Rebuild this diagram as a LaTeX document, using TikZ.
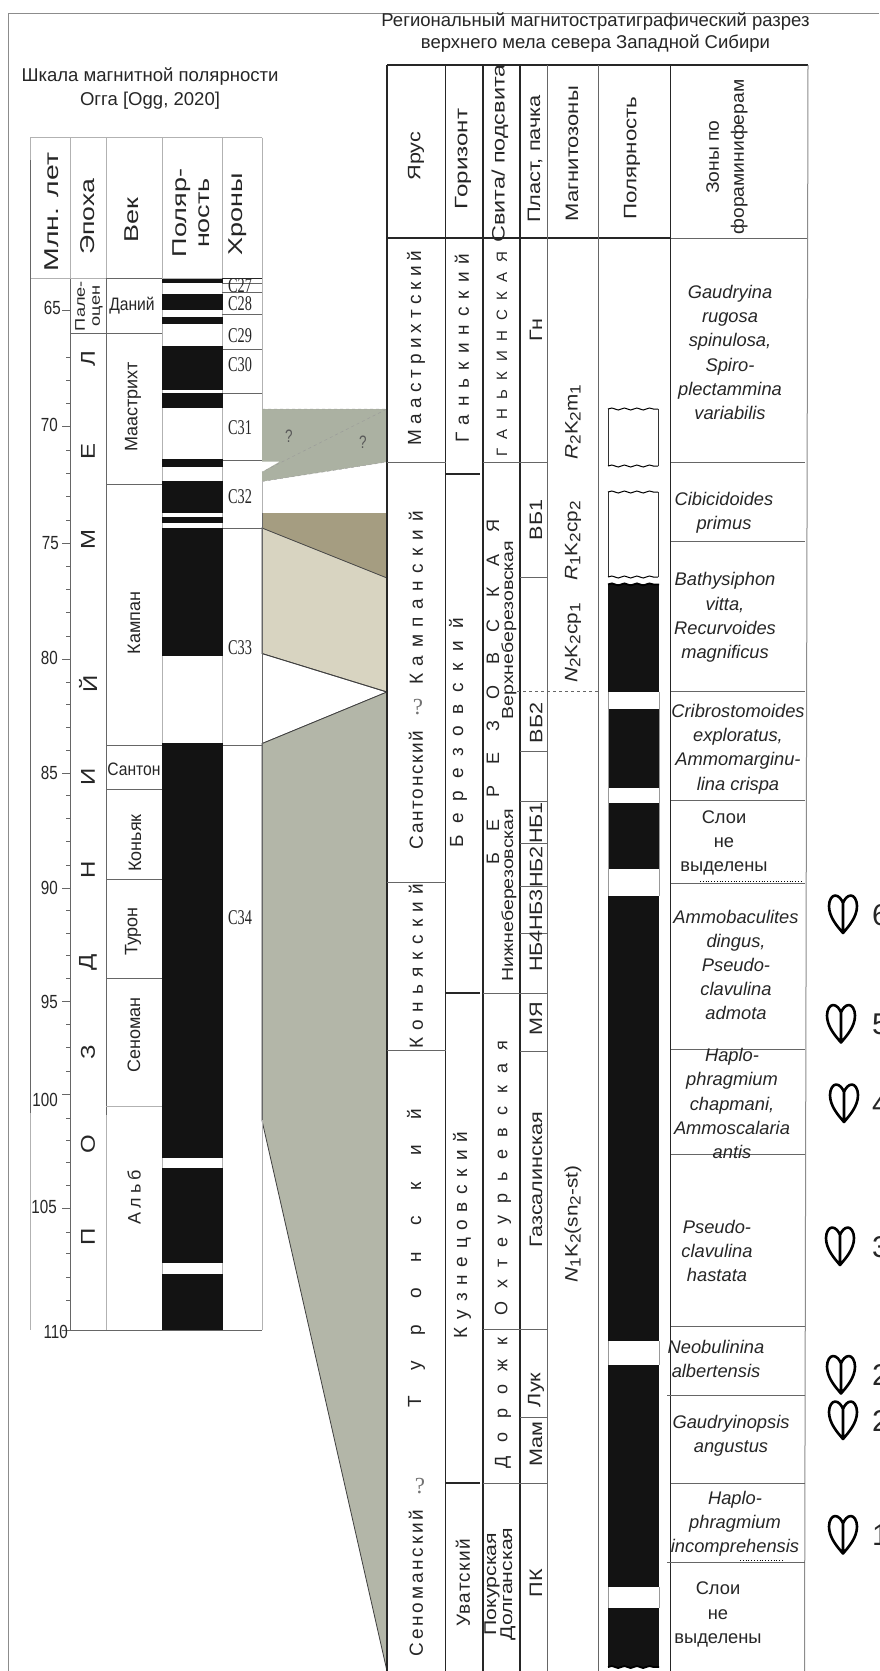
\documentclass[tikz,border=0pt]{standalone}
\usepackage{fontspec}
\setmainfont{Liberation Sans}
\newfontfamily\chronfont{Liberation Serif}
\usetikzlibrary{decorations.pathmorphing}
\usepackage{xcolor}
\definecolor{magBlack}{HTML}{131313}
\definecolor{wedgeGreen}{HTML}{ABB1A2}
\definecolor{wedgeBrown}{HTML}{A59D81}
\definecolor{wedgeBeige}{HTML}{D8D4C1}
\definecolor{wedgeGray}{HTML}{B3B6A8}
\newcommand{\zs}[1]{\raisebox{-3pt}{\fontsize{15}{15}\selectfont #1}}
\tikzset{
    % Lines
    frameLine/.style={draw=black!45, line width=0.9pt},
    thinLine/.style={draw=black!60, line width=0.8pt},
    paleLine/.style={draw=black!30, line width=0.8pt},
    darkLine/.style={draw=black!85, line width=1.1pt},
    edgeLine/.style={draw=black!75, line width=0.8pt},
    wavyLine/.style={decorate, decoration={snake, amplitude=1pt, segment length=12.5pt}, line width=1pt},
    % Text
    hlbl/.style 2 args={inner sep=0pt, align=center, xscale=#2, transform shape, font=\fontsize{#1}{#1}\selectfont},
    vlbl/.style 2 args={rotate=90, xscale=#2, transform shape, inner sep=0pt, align=center, font=\fontsize{#1}{#1}\selectfont},
    vspaced/.style 2 args={rotate=90, inner sep=0pt, font=\fontsize{#1}{#1}\selectfont\addfontfeature{LetterSpace=#2}},
    zone/.style={inner sep=0pt, align=center, font=\fontsize{18.3}{24.2}\selectfont\itshape},
    zoneplain/.style={inner sep=0pt, align=center, font=\fontsize{18.3}{24.4}\selectfont},
    chron/.style={inner sep=0pt, xscale=.68, transform shape, font=\fontsize{21}{21}\selectfont\chronfont},
    tickno/.style={inner sep=0pt, anchor=east, xscale=.8, transform shape, font=\fontsize{19}{19}\selectfont},
    query/.style={inner sep=0pt, text=black!55, font=\fontsize{23}{23}\selectfont\chronfont},
    % Fossil mark
    shell/.pic={\draw[line width=2.6pt, line join=round]
        (0,19) .. controls (-6,12) and (-14,3) .. (-14,-8)
        .. controls (-14,-14) and (-11,-18.5) .. (-8,-18.5)
        .. controls (-4.5,-18.5) and (-1.5,-15) .. (0,-11)
        .. controls (1.5,-15) and (4.5,-18.5) .. (8,-18.5)
        .. controls (11,-18.5) and (14,-14) .. (14,-8)
        .. controls (14,3) and (6,12) .. (0,19) -- cycle (0,-11) -- (0,19);}
}

\begin{document}
\begin{tikzpicture}[x=1pt, y=-1pt, every node/.append style={text=black!85}]
\path[use as bounding box, clip] (0,0) rectangle (879,1671);
\fill[white] (0,0) rectangle (879,1671);

% Frame
\draw[frameLine] (879,13) -- (8,13) -- (8,1671);

% Titles
\node[hlbl={18.55}{1}] (leftTitle) at (150,89) {Шкала магнитной полярности\\[5.5pt]Огга [Ogg, 2020]};
\node[hlbl={18.5}{1}] (rightTitle) at (595.5,33) {Региональный магнитостратиграфический разрез\\[3.5pt]верхнего мела севера Западной Сибири};

% Correlation wedges
\fill[wedgeGreen] (262,409) -- (387,409) -- (387,462) -- (262,481.5) -- (262,472) -- (280,461.5) -- (262,461.5) -- cycle;
\draw[black!40, dashed] (262,409) -- (387,409) -- (262,472);
\draw[black!40, dashed] (262,481.5) -- (387,462);
\fill[wedgeBrown] (262,513) -- (387,513) -- (387,578) -- (262,528) -- cycle;
\filldraw[fill=wedgeBeige, edgeLine] (262,528) -- (387,578) -- (387,692) -- (262,653.5) -- cycle;
\draw[edgeLine] (262,653.5) -- (387,692) -- (262,743.6);
\filldraw[fill=wedgeGray, edgeLine] (262,743.6) -- (387,692) -- (387,1671) -- (262,1120.5) -- cycle;
\draw[thinLine] (262,513) -- (262,1120.5);
\node[hlbl={18}{.75}, text=black!65] (qLeft) at (289,436) {?};
\node[hlbl={18}{.75}, text=black!65] (qRight) at (363,442) {?};

% Left scale, grid
\draw[paleLine] (30,137.5) -- (262,137.5) (30,278.6) -- (262,278.6);
\draw[paleLine] (30,137.5) -- (30,1330);
\draw[thinLine] (30,160) -- (30,1113);
\draw[paleLine] (70,137.5) -- (70,278.6) (106,137.5) -- (106,278.6) (162,137.5) -- (162,1330) (222,137.5) -- (222,1330);
\draw[thinLine] (70,278.6) -- (70,1330) (106,278.6) -- (106,1115);
\draw[paleLine] (106,1115) -- (106,1330);
\draw[paleLine] (262,137.5) -- (262,409) (262,481) -- (262,513) (262,1120) -- (262,1330);
\draw[thinLine] (70,1330) -- (262,1330);
\draw[thinLine] (70,333) -- (162,333) (106,278.6) -- (162,278.6);
\draw[thinLine] (106,484) -- (162,484) (106,745) -- (222,745) (222,745) -- (262,745) (106,789) -- (162,789) (106,879) -- (162,879) (106,978) -- (162,978);
\draw[paleLine] (106,1106) -- (162,1106);
\foreach \y in {283,292,314,349,393} \draw[thinLine] (222,\y) -- (262,\y);
\draw[darkLine] (222,278.6) -- (262,278.6);
\foreach \y in {460.7,528} \draw[thinLine] (222,\y) -- (262,\y);

% Ticks
\foreach \y in {310.7,426.8,543,659.4,773.3,888,1001.8,1094,1208,1330} \draw[thinLine] (62,\y) -- (70,\y);
\foreach \y in {357,380,403.6,450,473,496,520,566,589,612,636,682,704,727,750,795,818,841,865,910,933,955,978,1024,1047,1071,1118,1140,1162,1185,1232,1253,1277,1300} \draw[thinLine] (66,\y) -- (70,\y);
\foreach \i/\r/\y in {65/61/308,70/58/425,75/59/543,80/58/658,85/58/773,90/58/888,95/58/1002,100/58/1099.5,105/57/1207,110/68/1332} \node[tickno] (tick\i) at (\r,\y) {\i};

% Left scale, polarity
\foreach \a/\b in {278.6/283,293.6/310,317/323.6,346.4/390,393/408,459/467,481.4/513,517/523,528/656,742.5/1158,1168.4/1262.5,1273.5/1330} \fill[magBlack] (162,\a) rectangle (222.5,\b);

% Left scale, header
\node[vlbl={20}{1.42}] (hdrAge) at (52,212) {Млн. лет};
\node[vlbl={20}{1.33}] (hdrEpoch) at (88,217) {Эпоха};
\node[vlbl={20}{1.35}] (hdrStage) at (132,220) {Век};
\node[vlbl={20}{1.35}] (hdrPol) at (191.5,213) {Поляр-\\[3pt]ность};
\node[vlbl={20}{1.35}] (hdrChron) at (238,214) {Хроны};

% Left scale, epoch
\node[vlbl={14}{1.3}] (epPaleo) at (89,306) {Пале-\\[1pt]оцен};
\foreach \i/\t/\y in {1/Л/359,2/Е/451,3/М/539,4/Й/684,5/И/777,6/Н/870,7/Д/962,8/З/1052,9/О/1144,10/П/1237} \node[vlbl={20}{1.2}] (ep\i) at (88,\y) {\t};

% Left scale, stages
\node[hlbl={18}{.87}] (ageDan) at (132,306) {Даний};
\node[hlbl={18}{.87}] (ageSan) at (134,769) {Сантон};
\foreach \i/\t/\x/\y in {1/Маастрихт/133/407,2/Кампан/134/623,3/Коньяк/135/843,4/Турон/133/931.5,5/Сеноман/134/1035} \node[vlbl={18}{1}] (age\i) at (\x,\y) {\t};
\node[vspaced={18}{22}] (ageAlb) at (134,1197) {Альб};

% Left scale, chrons
\foreach \i/\y in {27/286,28/303.6,29/335.7,30/365,31/428,32/497,33/647.6,34/918} \node[chron] (chron\i) at (240,\y) {C\i};

% Right section, grid
\draw[darkLine] (387,65) -- (808,65) (387,238) -- (671,238);
\draw[thinLine] (671,238) -- (808,238);
\draw[darkLine] (387,65) -- (387,1671) (445.7,65) -- (445.7,1671) (483,65) -- (483,1671) (520,65) -- (520,1671);
\draw[thinLine] (547,65) -- (547,1671) (598,65) -- (598,1671);
\draw[darkLine] (670.7,65) -- (670.7,1671);
\draw[draw=black!45, line width=1pt] (808,65) -- (804.5,1671);
\foreach \y in {462,882,1050} \draw[thinLine] (387,\y) -- (445.7,\y);
\foreach \y in {474,993,1483} \draw[darkLine] (445.7,\y) -- (480,\y);
\foreach \y in {462,993,1329,1483} \draw[thinLine] (483,\y) -- (547,\y);
\foreach \y in {577,751,801.6,843,886,933,1051,1417} \draw[thinLine] (520,\y) -- (547,\y);
\draw[thinLine, dashed] (517,691.7) -- (598,691.7);
\foreach \y in {462.5,541.8,691.7,800.8,883,1049,1154.6,1326.5,1483} \draw[thinLine] (670.7,\y) -- (805,\y);
\foreach \y in {1395,1562} \draw[thinLine] (667,\y) -- (805,\y);
\draw[dotted, thick] (700,881) -- (803,881);
\draw[dotted, thick] (740,1560) -- (783,1560);

% Right section, header
\node[vlbl={18}{1.2}] (secStage) at (416,156) {Ярус};
\node[vlbl={18}{1.34}] (secHorizon) at (463,159) {Горизонт};
\node[vlbl={18}{1.3}] (secSuite) at (500,153.6) {Свита/ подсвита};
\node[vlbl={18}{1.21}] (secBed) at (535,159) {Пласт, пачка};
\node[vlbl={18}{1.22}] (secZones) at (572,153.6) {Магнитозоны};
\node[vlbl={18}{1.24}] (secPol) at (632,158) {Полярность};
\node[vlbl={18}{1.07}] (secForam) at (727,157) {Зоны по\\[7pt]фораминиферам};

% Stages
\node[vspaced={19}{27}] (stMaas) at (416,348) {Маастрихтский};
\node[vspaced={19}{40}] (stCamp) at (416,598) {Кампанский};
\node[query] (stQa) at (418,707) {?};
\node[vspaced={19}{9}] (stSant) at (416,790) {Сантонский};
\node[vspaced={19}{38}] (stCon) at (416,966) {Коньякский};
\node[vspaced={19}{137}] (stTur) at (416,1258) {Туронский};
\node[query] (stQb) at (420,1486) {?};
\node[vspaced={19}{15}] (stCen) at (416,1583) {Сеноманский};

% Horizons
\node[vspaced={19}{42}] (hzGan) at (462,348) {Ганькинский};
\node[vspaced={19}{62}] (hzBer) at (458,733) {Березовский};
\node[vspaced={19}{41}] (hzKuz) at (462,1235) {Кузнецовский};
\node[vspaced={19}{7}] (hzUv) at (463,1583) {Уватский};

% Suites
\node[vspaced={15}{64}] (suGan) at (502,354) {ГАНЬКИНСКАЯ};
\node[vspaced={18}{118}] (suBer) at (493,692) {БЕРЕЗОВСКАЯ};
\node[vlbl={16}{1.22}] (suUp) at (509,630) {Верхнеберезовская};
\node[vlbl={16}{1.22}] (suLow) at (509,895) {Нижнеберезовская};
\node[vspaced={18}{69}] (suOkh) at (503,1178) {Охтеурьевская};
\node[vspaced={18}{76}] (suDor) at (503,1403) {Дорожк};
\node[vlbl={17}{1.25}] (suPok) at (500,1584) {Покурская\\[-1pt]Долганская};

% Beds
\foreach \i/\t/\y in {1/Гн/330,2/ВБ1/520,3/ВБ2/723,4/НБ1/823,5/НБ2/867,6/НБ3/910,7/НБ4/951,8/МЯ/1019,9/Газсалинская/1180,10/Лук/1390,11/Мам/1444,12/ПК/1583} \node[vlbl={18}{1.2}] (bed\i) at (536,\y) {\t};

% Magnetozones
\node[vlbl={18}{1.15}] (mzA) at (573,422) {\textit{R}\zs{2}K\zs{2}m\zs{1}};
\node[vlbl={18}{1.15}] (mzB) at (573,541) {\textit{R}\zs{1}K\zs{2}cp\zs{2}};
\node[vlbl={18}{1.15}] (mzC) at (573,643) {\textit{N}\zs{2}K\zs{2}cp\zs{1}};
\node[vlbl={18}{1.15}] (mzD) at (573,1224) {\textit{N}\zs{1}K\zs{2}(sn\zs{2}-st)};

% Right section, polarity
\foreach \a/\b in {409/466,492/577} {
    \draw[black!80, line width=1pt] (608,\a) -- (608,\b) (658,\a) -- (658,\b);
    \draw[wavyLine] (608,\a) -- (658,\a);
    \draw[wavyLine] (608,\b) -- (658,\b);
}
\foreach \a/\b in {584.4/691.7,709/788,802.7/869,896/1341.4,1364.7/1587,1608/1667} \fill[magBlack] (608,\a) rectangle (659,\b);
\draw[black!40, line width=0.6pt] (608,691.7) -- (608,896) (659,691.7) -- (659,896) (608,1341) -- (608,1365) (659,1341) -- (659,1365) (608,1587) -- (608,1608) (659,1587) -- (659,1608);
\draw[wavyLine, line width=1.8pt] (608,584.4) -- (659,584.4);
\draw[wavyLine, line width=1.8pt] (608,1667) -- (659,1667);

% Foraminifera zones
\node[zone] (zoA) at (730,352.5) {Gaudryina\\rugosa\\spinulosa,\\Spiro-\\plectammina\\variabilis};
\node[zone] (zoB) at (724,512.5) {Cibicidoides\\primus};
\node[zone] (zoC) at (725,617.5) {Bathysiphon\\vitta,\\Recurvoides\\magnificus};
\node[zone] (zoD) at (738,749) {Cribrostomoides\\exploratus,\\Ammomarginu-\\lina crispa};
\node[zoneplain] (zoE) at (724,843) {Слои\\не\\выделены};
\node[zone] (zoF) at (736,965) {Ammobaculites\\dingus,\\Pseudo-\\clavulina\\admota};
\node[zone] (zoG) at (732,1103.5) {Haplo-\\phragmium\\chapmani,\\Ammoscalaria\\antis};
\node[zone] (zoH) at (717,1251) {Pseudo-\\clavulina\\hastata};
\node[zone] (zoI) at (716,1359) {Neobulinina\\albertensis};
\node[zone] (zoJ) at (731,1435.5) {Gaudryinopsis\\angustus};
\node[zone] (zoK) at (735,1523.5) {Haplo-\\phragmium\\incomprehensis};
\node[zoneplain] (zoL) at (718,1614.5) {Слои\\не\\выделены};

% Fossil levels
\foreach \i/\x/\y/\n in {1/843/1534.5/1,2/843/1420/2,3/841/1374.5/2,4/840/1246/3,5/844/1103/4,6/841/1023.5/5,7/843/914/6} {
    \pic at (\x,\y) {shell};
    \node[inner sep=0pt, anchor=west, font=\fontsize{30}{30}\selectfont] (lvl\i) at (872,\y+1) {\n};
}

\end{tikzpicture}
\end{document}
